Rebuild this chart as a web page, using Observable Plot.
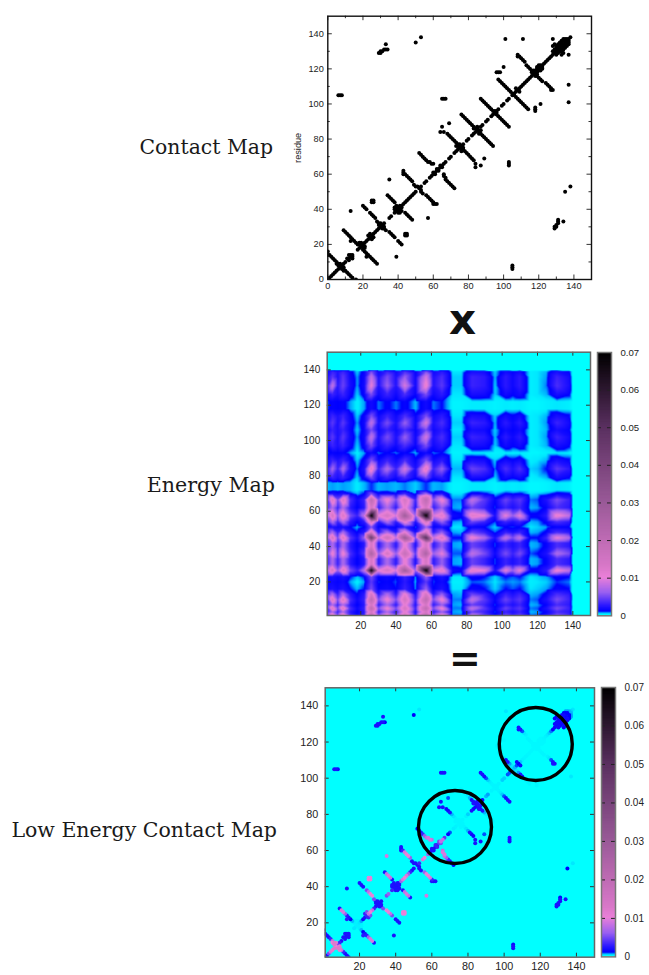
<!DOCTYPE html>
<html><head><meta charset="utf-8">
<script src="https://cdn.jsdelivr.net/npm/d3@7"></script>
<script src="https://cdn.jsdelivr.net/npm/@observablehq/plot@0.6"></script>
<style>
html,body{margin:0;background:#fff}
#chart{position:relative;width:649px;height:975px;overflow:hidden}
#chart svg{position:absolute;background:transparent;overflow:visible}
.t{position:absolute;font-family:"DejaVu Serif",serif;color:#1a1a1a;white-space:nowrap}
</style></head><body><div id="chart"></div>
<script>
// ---- data (energies in thousandths) ----
const panelTitles = ["Contact Map","Energy Map","Low Energy Contact Map"];
const majorTicks = [20,40,60,80,100,120,140];
const minorTicks = [10,30,50,70,90,110,130];
const energyTicks = [0,10,20,30,40,50,60,70];
const colorStops = [0,0.3,0.6,1,2.5,6,10,13,30,50,70];
const colorRange = ["#00ffff","#00e8ff","#00a0ff","#0000ff","#2a18ff","#9a60f0","#ea80d8","#d878c8","#9a5a98","#5a3060","#000000"];
const axisFont = {fontFamily:"Liberation Sans, Arial, sans-serif"};

// diagonal contacts: [residue, energy]
const diagonal = [[0,2],[1,2],[2,2],[3,5],[4,9],[5,11],[6,12],[7,10],[8,4],[9,3],[10,2],[12,2],[13,2],[14,2],
[17,.3],[18,.2],[19,.2],[20,.3],[21,.6],[22,1.5],[23,2],[24,3],[25,8],[26,10],[27,8],[28,3],[29,2],[30,2],[31,2],[32,2],[35,5],[36,6],[38,3],[39,2],[40,2],[41,2],[42,2],[43,6],[44,9],[45,10],[46,9],[47,6],[48,3],[49,2],[50,2],[52,2],[53,3],[55,9],[56,10],[58,6],[59,2],[60,2],[61,2],[62,2],[63,2],[64,4],[65,8],[66,8],[67,4],[69,1.2],[70,.8],[72,.2],[73,.15],[74,.1],[75,.1],[76,.1],[77,.1],[79,.15],[80,.4],[82,2],[83,1.5],[84,1.5],[85,1.8],[87,2],[88,1.5],[90,.5],[91,.6],[93,.12],[94,.1],[95,.1],[96,.12],[97,.12],[99,.4],[100,.4],[102,.8],[103,.8],[105,.4],[106,.5],[107,.8],[108,1],[109,.4],[110,.15],[111,.1],[112,.1],[113,.08],[114,.08],[115,.08],[116,.08],[117,.08],[118,.08],[119,.08],[120,.08],[121,.08],[122,.1],[123,.15],[124,.25],[125,.4],[126,.7],[127,1.2],[128,1.4],[129,1.5],[130,1.5],[131,1.5],[132,1.5],[133,1.5],[134,1.2],[135,.8],[136,.5],[137,.4],[138,.3]];

// off-diagonal contacts: [x, y, energy]; the map is symmetric
const armsLow = [[0,16,1.5],[0,14,2],[1,14,2],[2,13,2],[3,12,2],[4,11,3],[5,10,8],[5,9,10],[6,8,12],[6,9,12],[7,9,11],[11,12,2],[12,14,2],[13,14,2],
[9,28,2],[10,27,9],[11,26,9],[12,25,6],[13,24,2.5],[14,23,2],[15,22,1],[16,21,.5],[17,20,.2],[18,20,.15],[18,21,.15],[19,21,.15],[13,22,2.5],
[20,42,2],[21,41,2],[22,40,2],[24,38,5],[25,37,8],[26,36,10],[27,35,10],[28,33,5],[29,32,2],[30,31,2],[23,25,3],[24,26,5],[29,31,2],[30,32,2],
[25,44,10],[26,44,10],[25,45,10],[26,45,10],[13,39,2],[35,57,9]];
const armsMid = [[34,48,2],[35,47,8],[36,46,9],[37,45,8],[38,44,2],[39,42,2],[40,41,2],[39,41,2],[38,40,2],[39,40,2],[38,41,2],[41,42,2],
[43,62,2],[43,60,2],[43,61,2],[44,60,3],[45,59,9],[46,58,10],[47,57,10],[48,56,6],[49,54,2],[50,53,2],[51,53,2],
[52,72,1],[53,71,2],[54,70,2],[55,69,3],[56,68,6],[57,67,8],[58,67,9],[59,66,9],[60,66,8],[60,61,2],[62,63,3],[64,65,5],
[64,84,2],[66,84,2],[65,87,2],[69,89,.8],[68,83,1.5],[69,82,1.5],[70,81,2],[71,80,.5],[72,79,.3],[73,78,.12],[74,76,.1],[75,76,.1],[73,76,.1],[74,77,.1],[75,77,.1],
[65,103,2],[66,103,2],[67,103,2]];
const armsHigh = [[76,94,.1],[77,93,.1],[78,92,.1],[79,91,.12],[80,90,.2],[81,89,.5],[82,88,2],[83,87,2],[84,86,2],[85,86,2],[83,86,2],[85,87,2],
[87,103,2],[88,102,2],[89,101,1.8],[90,100,.8],[91,99,.4],[92,98,.2],[93,97,.12],[94,96,.12],[95,96,.1],
[97,114,.1],[98,113,.1],[99,112,.15],[100,111,.3],[101,110,1.5],[102,109,2],[103,108,.6],[104,107,.3],[105,106,.3],[107,109,1.5],
[96,118,.1],[97,118,.1],[98,118,.1],[100,121,.08],[101,137,.3],[111,137,0],[128,137,0],
[108,128,2],[108,127,2],[109,127,2],[110,126,.8],[111,125,.3],[112,124,.15],[113,122,.1],[114,121,.1],[115,120,.08],[116,119,.08],[117,118,.08],[118,119,.08],[117,119,.08],[116,118,.08],[119,121,.08],[120,122,.08],[119,120,.08],[121,122,.08],[120,121,.08]];
const armsFar = [[29,129,2],[30,129,2],[30,130,2],[31,130,2],[32,131,2],[33,131,2],[34,131,1],[33,134,2],[50,135,1],[53,138,.3],[6,105,2],[7,105,2],[8,105,1.5],
[128,130,1.5],[129,131,1.5],[130,132,1.5],[131,133,1.5],[132,134,1.5],[133,135,1.5],[134,136,1],[135,137,.6],[130,133,1.5],[131,134,1.5],[132,135,1.5],[133,136,1],[134,137,.6],[128,133,1.2],[129,134,1],[135,136,1],[136,137,.5]];

const circleCentres = [[72.8,73],[117.5,118.9]];

// energy map nodes: one column per entry of xNodes
const xNodes = [1,4,7,10,14,18,22,26,30,35,40,45,51,57,61,66,72,77,83,90,96,102,106,110,116,120,125,131,138,140,150];
const rowPeak   = [6,14,6,13,5,3,8,70,10,14,9,28,6,70,9,12,1.5,1.2,12,10,2,10,6,10,1.2,1.2,2.5,11,8];
const rowStrong = [5,14,5,13,4,2,6,45,8,16,8,30,5,50,8,13,1,1,11,7,2,8,5,8,1,1,3,10,7];
const rowMid    = [4,11,4,11,3.5,1.5,4,25,6,14,6,18,4,25,6,10,.8,.8,8,5,1.5,5,3,5,.8,1,2,7,5];
const rowSoft   = [3,13,5,13,3.5,1.5,3,20,5,11,5,14,3,20,5,11,.7,.7,8,4,1.2,4.5,3,4,.7,.8,2,5,3];
const rowHalf   = [3,7,3,7,2.5,1,2.5,14,2.5,7,2.5,11,2,14,2.5,6,.6,.5,4.5,3,.8,3,2,3,.5,.6,1.2,3.5,2.5];
const rowValley = [1.5,2,1.5,2,1,.5,1,5,1.2,1.5,1,3,.6,6,1,2,.3,.3,1.3,1,.4,1,.8,1,.3,.4,.6,1.2,1];
const rowValleyLow = [1.2,1.5,1.2,1.5,.6,.2,.6,4,.9,1.2,.8,2.5,.5,4,.8,1.5,.2,.2,.8,.7,.3,.7,.6,.7,.2,.3,.4,.9,.7];
const rowGap    = [.5,.6,.5,.6,.5,.25,.5,.9,.5,.6,.5,.7,.4,.9,.5,.6,.15,.15,.3,.3,.15,.3,.25,.3,.1,.1,.15,.3,.2];
const rowUpperPeak = [2.5,6.5,3,7,2,.7,2,12,3,7,3,9,2,12,3,6,.5,.5,4.5,3.5,.7,3.5,2.2,3.5,.4,.5,1,4,2.5];
const rowUpperMid  = [1.5,3,2,3,1.3,.4,1.3,5,1.5,3,1.5,3.5,1.2,5,1.5,2.5,.3,.3,1.8,1.6,.4,1.6,1.1,1.6,.2,.3,.5,1.8,1.1];
const rowUpper102  = [2,4,2,4,1.5,.6,1.5,8,2,5,2,6,1.5,9,2,3.5,.4,.4,3,2.5,.5,2.5,1.5,2.5,.2,.3,.6,3,1.6];
const rowUpper132  = [2.5,8,2.5,4.5,1.7,.6,1.7,10,2.2,6,2.2,9,1.6,11,2.2,4,.4,.4,3,2.5,.4,2.5,1.5,2.5,.2,.3,.7,3.5,1.8];
const rowUpperValley = [.8,1.2,1,1.2,.6,.2,.6,1.6,.7,1.1,.7,1.2,.5,1.6,.7,1,.15,.15,.25,.25,.15,.25,.2,.25,.1,.1,.2,.3,.2];
const rowEmpty = [];
const energyRows = [[1,rowSoft],[3,rowHalf],[5,rowSoft],[7,rowHalf],[10,rowSoft],[13,rowHalf],[16,rowValley],[20,rowValleyLow],[23,rowValley],[26.5,rowPeak],[30,rowHalf],[33,rowHalf],[36,rowMid],[40,rowHalf],[42,rowHalf],[45,rowStrong],[48,rowHalf],[51,rowValley],[54,rowHalf],[57.5,rowPeak],[62,rowHalf],[66.5,rowSoft],[70,rowValley],[72,rowGap],[76,rowGap],[79,rowUpperMid],[84,rowUpperPeak],[89,rowUpperMid],[93,rowUpperValley],[97,rowUpperMid],[102,rowUpper102],[106,rowUpperMid],[110,rowUpper102],[114,rowUpperMid],[118,rowUpperValley],[122,rowUpperValley],[126,rowUpperMid],[131,rowUpper132],[136,rowUpper102],[139,rowUpperMid],[140,rowEmpty],[150,rowEmpty]];

// ---- tables built from the arrays ----
const offDiagonal = [...armsLow,...armsMid,...armsHigh,...armsFar];
const contacts = [
  ...diagonal.map(([r,e])=>({x:r,y:r,e})),
  ...offDiagonal.flatMap(([x,y,e])=>[{x,y,e},{x:y,y:x,e}])
].sort((a,b)=>a.e-b.e);
const energyTable = energyRows.flatMap(([y,row])=>xNodes.map((x,i)=>({x,y,e:row[i]??0})));
const barSteps = d3.range(0,70,0.2);
const color = {type:"linear",domain:colorStops,range:colorRange,clamp:true};

// ---- helpers ----
const chart = document.getElementById("chart");
function place(svg,left,top){svg.style.left=left+"px";svg.style.top=top+"px";chart.append(svg);}
function ticks(data,dim,size,stroke,strokeWidth){
  const opt={stroke,strokeWidth};
  return dim.flatMap(([axis,full])=>axis==="x"
    ?[Plot.ruleX(data,{x:d=>d,...opt,insetTop:full-size}),Plot.ruleX(data,{x:d=>d,...opt,insetBottom:full-size})]
    :[Plot.ruleY(data,{y:d=>d,...opt,insetRight:full-size}),Plot.ruleY(data,{y:d=>d,...opt,insetLeft:full-size})]);
}
function colorBar(left,top,frameW,frameH,pad,labelSize){
  const svg=Plot.plot({width:649-left,height:frameH+10,marginLeft:0,marginTop:5,marginBottom:5,marginRight:649-left-frameW,style:axisFont,
    x:{axis:null},y:{domain:[0,70],axis:null},color,
    marks:[
      Plot.rect(barSteps,{y1:d=>d,y2:d=>Math.min(70,d+0.6),fill:d=>d}),
      ...ticks(energyTicks.slice(1,-1),[["y",frameW]],4,"#222",1),
      Plot.axisY(energyTicks,{anchor:"right",tickSize:0,tickPadding:pad,fontSize:labelSize,fill:"#222",textAnchor:"start",label:null,tickFormat:d=>d===0?"0":(d/1000).toFixed(2)}),
      Plot.frame({stroke:"#777",strokeWidth:1.5})
    ]});
  place(svg,left,top-5);
}

// ---- panel 1: contact map ----
{
  const W=263.7,H=263.3;
  const svg=Plot.plot({width:330,height:300,marginLeft:47.3,marginRight:19,marginTop:15.7,marginBottom:21,style:axisFont,
    x:{domain:[0,150],axis:null},y:{domain:[0,150],axis:null},
    marks:[
      Plot.dot(contacts,{x:"x",y:"y",r:2,fill:"#000",clip:true,imageFilter:"blur(0.35px)"}),
      ...ticks([0,...majorTicks],[["x",H]],4.5,"#333",1),
      ...ticks(minorTicks,[["x",H]],2.5,"#333",1),
      ...ticks([0,...majorTicks],[["y",W]],4.5,"#333",1),
      ...ticks(minorTicks,[["y",W]],2.5,"#333",1),
      Plot.axisX([0,...majorTicks],{anchor:"bottom",tickSize:0,tickPadding:3,fontSize:9.2,fill:"#222",label:null}),
      Plot.axisY([0,...majorTicks],{anchor:"left",tickSize:0,tickPadding:4,fontSize:9.2,fill:"#222",label:"residue",labelAnchor:"center",labelOffset:33,labelArrow:"none"}),
      Plot.frame({stroke:"#111",strokeWidth:1.4})
    ]});
  place(svg,280,0);
}
// ---- panel 2: energy map ----
{
  const W=263.3,H=263.3;
  const svg=Plot.plot({width:315,height:300,marginLeft:41.7,marginRight:10,marginTop:11.7,marginBottom:25,style:axisFont,
    x:{domain:[1,150],axis:null},y:{domain:[1,150],axis:null},color,
    marks:[
      Plot.raster(energyTable,{x:"x",y:"y",fill:"e",interpolate:"barycentric",imageFilter:"blur(0.5px)"}),
      ...ticks(majorTicks,[["x",H]],4,"#333",1),
      ...ticks(majorTicks,[["y",W]],4,"#333",1),
      Plot.axisX(majorTicks,{anchor:"bottom",tickSize:0,tickPadding:6,fontSize:10,fill:"#222",label:null}),
      Plot.axisY(majorTicks,{anchor:"left",tickSize:0,tickPadding:7,fontSize:10,fill:"#222",label:null}),
      Plot.frame({stroke:"#666",strokeWidth:1.5})
    ]});
  place(svg,285,340);
  colorBar(596.7,351.7,14,263.3,9,9.6);
}
// ---- panel 3: low energy contact map ----
{
  const W=269.3,H=269.4;
  const svg=Plot.plot({width:315,height:300,marginLeft:39.7,marginRight:6,marginTop:12.3,marginBottom:18.3,style:axisFont,
    x:{domain:[1,150],axis:null},y:{domain:[1,150],axis:null},color,
    marks:[
      Plot.frame({fill:"#00ffff"}),
      Plot.dot(contacts,{x:"x",y:"y",r:2,fill:"e",clip:true,imageFilter:"blur(0.5px)"}),
      Plot.dot(circleCentres,{x:"0",y:"1",r:36.5,stroke:"#000",strokeWidth:3.4,fill:"none"}),
      ...ticks(majorTicks,[["x",H]],4,"#333",1),
      ...ticks(majorTicks,[["y",W]],4,"#333",1),
      Plot.axisX(majorTicks,{anchor:"bottom",tickSize:0,tickPadding:5,fontSize:10.8,fill:"#222",label:null}),
      Plot.axisY(majorTicks,{anchor:"left",tickSize:0,tickPadding:7,fontSize:10.8,fill:"#222",label:null}),
      Plot.frame({stroke:"#666",strokeWidth:1.5})
    ]});
  place(svg,285,675);
  colorBar(600.7,687.3,14,269.4,9,10);
}
// ---- text labels ----
function text(str,css){const d=document.createElement("div");d.className="t";d.textContent=str;d.style.cssText=css;chart.append(d);}
text(panelTitles[0],"right:376px;top:135px;font-size:20.4px");
text(panelTitles[1],"right:374px;top:473px;font-size:20.6px");
text(panelTitles[2],"right:372px;top:818px;font-size:20.5px");
text("x","left:449px;top:295px;font:bold 42px 'DejaVu Sans';color:#111");
text("=","left:449px;top:636px;font:bold 38px 'DejaVu Sans';color:#111");
</script></body></html>
